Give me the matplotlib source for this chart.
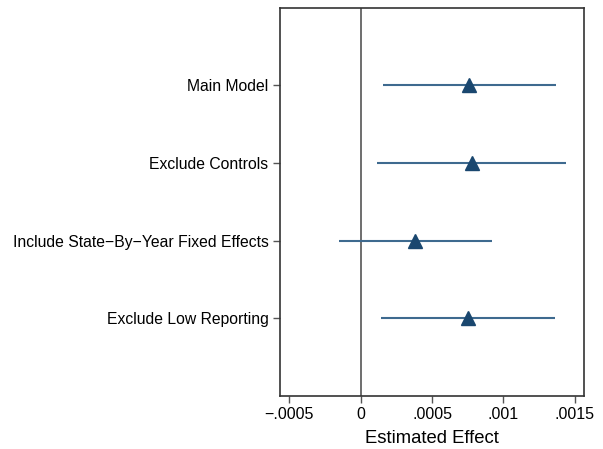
import matplotlib
matplotlib.use("Agg")
import matplotlib.pyplot as plt

labels = ["Main Model", "Exclude Controls",
          "Include State\u2212By\u2212Year Fixed Effects", "Exclude Low Reporting"]
estimates = [0.000758, 0.000780, 0.000383, 0.000751]
ci_low = [0.000154, 0.000116, -0.000154, 0.000144]
ci_high = [0.001366, 0.001440, 0.000920, 0.001360]
xticks = [-0.0005, 0, 0.0005, 0.001, 0.0015]
xticklabels = ["\u2212.0005", "0", ".0005", ".001", ".0015"]

plt.rcParams['font.family'] = ['Liberation Sans', 'DejaVu Sans']
fig = plt.figure(figsize=(6.03, 4.49), dpi=100)
ax = fig.add_axes([279.5/603, 1-396/449, (583.7-279.5)/603, (396-7.5)/449])

ys = list(range(1, len(labels)+1))
color = "#1a476f"
ax.axvline(0, color="#555555", lw=1.2, zorder=1)
ax.hlines(ys, ci_low, ci_high, color="#3e6a8f", lw=1.5, zorder=2)
ax.plot(estimates, ys, linestyle="none", marker="^", markersize=10.5, color=color, zorder=3)

ax.set_xlim(-0.000569, 0.001562)
ax.set_ylim(5, 0)
ax.set_yticks(ys)
ax.set_yticklabels(labels, fontsize=11.3)
ax.set_xticks(xticks)
ax.set_xticklabels(xticklabels, fontsize=11.5)
ax.set_xlabel("Estimated Effect", fontsize=13.3, labelpad=6)
ax.tick_params(axis='both', length=5, width=1, color="#555555", pad=3)
for s in ax.spines.values():
    s.set_color("#333333")
    s.set_linewidth(1.2)
fig.savefig("out.png", dpi=100, facecolor="white")
